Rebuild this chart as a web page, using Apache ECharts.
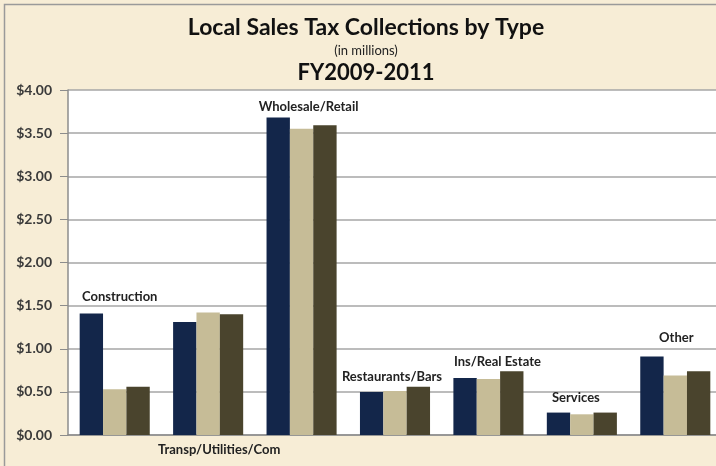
<!DOCTYPE html>
<html>
<head>
<meta charset="utf-8">
<script src="https://cdn.jsdelivr.net/npm/echarts@6/dist/echarts.min.js"></script>
<style>
  html, body { margin: 0; padding: 0; overflow: hidden; }
  /* the original plot runs a few pixels past the right edge of the picture */
  #chart { width: 722px; height: 466px; }
</style>
</head>
<body>
<div id="chart"></div>
<script>
// data
const categories = ["Construction", "Transp/Utilities/Com", "Wholesale/Retail", "Restaurants/Bars", "Ins/Real Estate", "Services", "Other"];
const fy2009 = [1.41, 1.31, 3.68, 0.50, 0.66, 0.26, 0.91];
const fy2010 = [0.53, 1.42, 3.55, 0.51, 0.65, 0.24, 0.69];
const fy2011 = [0.56, 1.40, 3.59, 0.56, 0.74, 0.26, 0.74];

// where each category name sits relative to the middle bar's top
const labelOffsets = [[5, -81], [11, 149], [7, -11], [-3, -3], [9, -6], [-6, -5], [1, -26]];

const font = "Lato";
const chart = echarts.init(document.getElementById("chart"));

const option = {
    backgroundColor: "#F7EDD6",
    textStyle: { fontFamily: font },
    title: [
        {
            text: "Local Sales Tax Collections by Type",
            left: 361, top: 11, textAlign: "center",
            textStyle: { fontFamily: font, fontSize: 23, fontWeight: "bold", color: "#111" },
        },
        {
            text: "(in millions)",
            left: 361, top: 39, textAlign: "center",
            textStyle: { fontFamily: font, fontSize: 13, fontWeight: "normal", color: "#222" },
        },
        {
            text: "FY2009-2011",
            left: 361, top: 57, textAlign: "center",
            textStyle: { fontFamily: font, fontSize: 22, fontWeight: "bold", color: "#111" },
        },
    ],
    graphic: [
        {
            type: "rect",
            shape: { x: 4.5, y: 4.5, width: 730, height: 470 },
            style: { fill: "none", stroke: "#9a9a9a", lineWidth: 1.5 },
            silent: true,
        },
    ],
    grid: { left: 68, top: 90, bottom: 31, right: 0, backgroundColor: "#fff", show: true, borderWidth: 0 },
    xAxis: {
        type: "category",
        data: categories,
        axisLabel: { show: false },
        axisTick: { show: false },
        axisLine: { lineStyle: { color: "#8c8c8c", width: 1.5 } },
    },
    yAxis: {
        type: "value",
        min: 0, max: 4, interval: 0.5,
        axisLine: { show: true, lineStyle: { color: "#8c8c8c", width: 1.5 } },
        axisTick: { show: true, length: 8, lineStyle: { color: "#8c8c8c" } },
        axisLabel: {
            formatter: (v) => "$" + v.toFixed(2),
            fontFamily: font, fontSize: 14, fontWeight: "bold", color: "#3a3a3a", margin: 16,
        },
        splitLine: { lineStyle: { color: "#a6a6a6", width: 1.5 } },
    },
    series: [
        {
            name: "FY2009", type: "bar", data: fy2009,
            barGap: "0%", barCategoryGap: "25%",
            itemStyle: { color: "#13264A" },
        },
        {
            name: "FY2010", type: "bar",
            data: fy2010.map((v, i) => ({
                value: v,
                label: { offset: labelOffsets[i] },
            })),
            itemStyle: { color: "#C6BC97" },
            label: {
                show: true, position: "top", distance: 5,
                formatter: (p) => categories[p.dataIndex],
                fontFamily: font, fontSize: 13, fontWeight: "bold", color: "#222",
            },
        },
        {
            name: "FY2011", type: "bar", data: fy2011,
            itemStyle: { color: "#4A442D" },
        },
    ],
};

chart.setOption(option);
</script>
</body>
</html>
